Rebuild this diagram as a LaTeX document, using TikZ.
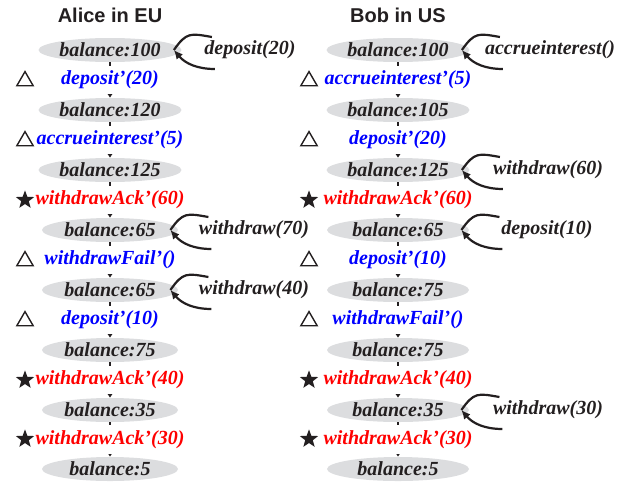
\documentclass[tikz,border=0pt]{standalone}
\usepackage{fontspec}
\setmainfont{Liberation Serif}
\setsansfont{Liberation Sans}
\usetikzlibrary{shapes.geometric}
\usetikzlibrary{arrows.meta}
\definecolor{stategray}{RGB}{220,221,223}
\definecolor{ink}{RGB}{35,31,32}

\begin{document}
\begin{tikzpicture}[x=0.5pt, y=-0.5pt,
    state/.style={ellipse, fill=stategray, minimum width=68pt, minimum height=12pt, inner sep=0pt, text=ink,
        font=\fontsize{10}{12}\selectfont\bfseries\itshape},
    wide state/.style={state, minimum width=71pt},
    op/.style={fill=white, inner sep=2.5pt, font=\fontsize{10}{12}\selectfont\bfseries\itshape},
    call/.style={text=ink, inner sep=0pt, font=\fontsize{10}{12}\selectfont\bfseries\itshape},
    title/.style={text=ink, font=\fontsize{10}{12}\selectfont\sffamily\bfseries},
    flow/.style={draw=ink, line width=1pt, -{Triangle[length=2.5pt,width=3.2pt]}},
    self loop/.style={draw=ink, line width=1.1pt},
    delta/.style={regular polygon, regular polygon sides=3, draw=ink, line width=0.7pt, minimum size=9.4pt, inner sep=0pt},
    star mark/.style={star, star points=5, star point ratio=2.4, fill=ink, minimum size=9.6pt, inner sep=0pt}]
    \useasboundingbox (0,0) rectangle (624,487);

    % titles
    \node [title] (alice) at (110,15) {Alice in EU};
    \node [title] (bob) at (398,15) {Bob in US};

    % Alice's replica
    \node [state] (a1) at (110,50) {balance:100};
    \node [state] (a2) at (110,110) {balance:120};
    \node [state] (a3) at (110,170) {balance:125};
    \node [state] (a4) at (110,230) {balance:65};
    \node [state] (a5) at (110,290) {balance:65};
    \node [state] (a6) at (110,350) {balance:75};
    \node [state] (a7) at (110,410) {balance:35};
    \node [state] (a8) at (110,469) {balance:5};

    \draw [flow] (a1) -- node [op,text=blue] {deposit’(20)} (a2);
    \draw [flow] (a2) -- node [op,text=blue] {accrueinterest’(5)} (a3);
    \draw [flow] (a3) -- node [op,text=red] {withdrawAck’(60)} (a4);
    \draw [flow] (a4) -- node [op,text=blue] {withdrawFail’()} (a5);
    \draw [flow] (a5) -- node [op,text=blue] {deposit’(10)} (a6);
    \draw [flow] (a6) -- node [op,text=red] {withdrawAck’(40)} (a7);
    \draw [flow] (a7) -- node [op,text=red] {withdrawAck’(30)} (a8);

    \node [delta] (ma1) at (25,81) {};
    \node [delta] (ma2) at (25,141) {};
    \node [star mark] (ma3) at (25,200) {};
    \node [delta] (ma4) at (25,261) {};
    \node [delta] (ma5) at (25,321) {};
    \node [star mark] (ma6) at (25,380) {};
    \node [star mark] (ma7) at (25,439) {};

    % Bob's replica
    \node [wide state] (b1) at (398,50) {balance:100};
    \node [wide state] (b2) at (398,110) {balance:105};
    \node [wide state] (b3) at (398,170) {balance:125};
    \node [wide state] (b4) at (398,230) {balance:65};
    \node [wide state] (b5) at (398,290) {balance:75};
    \node [wide state] (b6) at (398,350) {balance:75};
    \node [wide state] (b7) at (398,410) {balance:35};
    \node [wide state] (b8) at (398,469) {balance:5};

    \draw [flow] (b1) -- node [op,text=blue] {accrueinterest’(5)} (b2);
    \draw [flow] (b2) -- node [op,text=blue] {deposit’(20)} (b3);
    \draw [flow] (b3) -- node [op,text=red] {withdrawAck’(60)} (b4);
    \draw [flow] (b4) -- node [op,text=blue] {deposit’(10)} (b5);
    \draw [flow] (b5) -- node [op,text=blue] {withdrawFail’()} (b6);
    \draw [flow] (b6) -- node [op,text=red] {withdrawAck’(40)} (b7);
    \draw [flow] (b7) -- node [op,text=red] {withdrawAck’(30)} (b8);

    \node [delta] (mb1) at (309,81) {};
    \node [delta] (mb2) at (309,141) {};
    \node [star mark] (mb3) at (309,200) {};
    \node [delta] (mb4) at (309,261) {};
    \node [delta] (mb5) at (309,321) {};
    \node [star mark] (mb6) at (309,380) {};
    \node [star mark] (mb7) at (309,439) {};

    % local calls
    \node [call] (ca1) at (250,50) {deposit(20)};
    \node [call] (ca4) at (254,230) {withdraw(70)};
    \node [call] (ca5) at (254,290) {withdraw(40)};
    \node [call] (cb1) at (550,50) {accrueinterest()};
    \node [call] (cb3) at (548,170) {withdraw(60)};
    \node [call] (cb4) at (547,230) {deposit(10)};
    \node [call] (cb7) at (548,410) {withdraw(30)};

    \foreach \s in {a1, a4, a5, b1, b3, b4, b7} {
        \coordinate (\s t) at ([xshift=15pt,yshift=6.5pt]\s.east);
        \coordinate (\s b) at ([xshift=16.5pt,yshift=-9.5pt]\s.east);
        \coordinate (\s tip) at ([xshift=-4pt]\s.east);
        \draw [self loop] (\s t) to [out=170, in=55, looseness=1.4] (\s tip);
        \draw [self loop, -{Latex[length=4.5pt,width=4.2pt]}] (\s b) to [out=180, in=-50] (\s tip);
    }
\end{tikzpicture}
\end{document}
